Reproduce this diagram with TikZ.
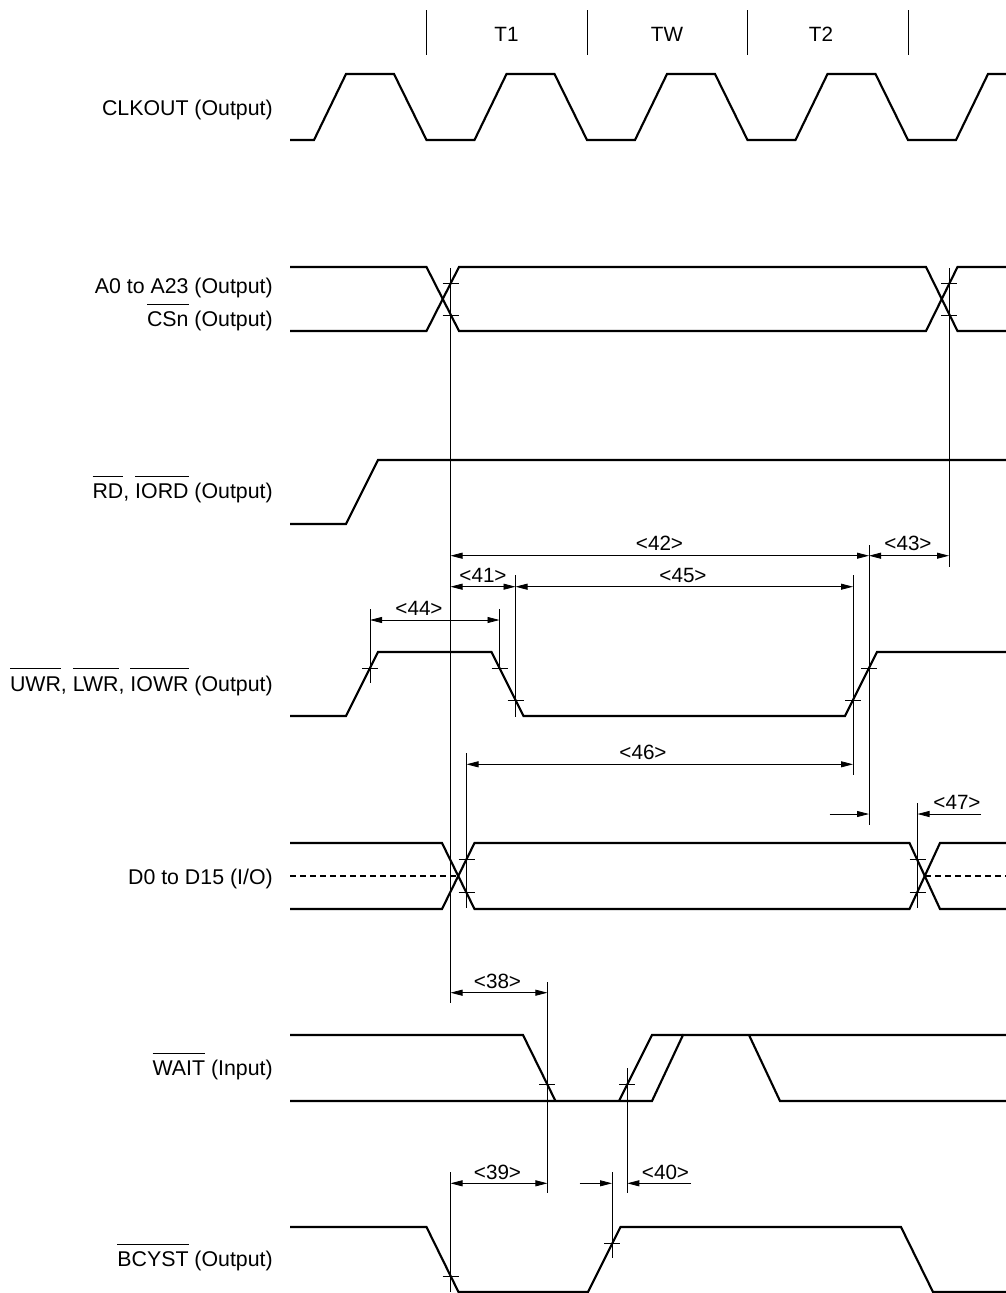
\documentclass[tikz,border=0pt]{standalone}
\usepackage{fontspec}
\setmainfont{Liberation Sans}
\usetikzlibrary{arrows.meta}
\newsavebox\ovlbox
\newcommand{\ovl}[1]{\sbox\ovlbox{#1}\rlap{\rule[1.02em]{\wd\ovlbox}{0.055em}}\usebox\ovlbox}
\begin{document}
\begin{tikzpicture}[x=0.75pt,y=-0.75pt,
  sig/.style={line width=1.6pt},
  thinln/.style={line width=0.6pt},
  tickmk/.style={line width=0.6pt},
  dimln/.style={line width=0.6pt,{Triangle[length=9pt,width=4.5pt]}-{Triangle[length=9pt,width=4.5pt]}},
  dimin/.style={line width=0.6pt,-{Triangle[length=9pt,width=4.5pt]}},
  lbl/.style={font=\fontsize{16}{19}\selectfont, anchor=base east, inner sep=0pt},
  dlbl/.style={font=\fontsize{15.5}{18}\selectfont, inner sep=0pt},
]
\useasboundingbox (0,0) rectangle (1006,1293);

% ---- period markers ----
\foreach \m in {426.5,587,747.5,908} \draw[thinln] (\m,10) -- (\m,55);
\node[dlbl] (t1) at (506.5,34) {T1};
\node[dlbl] (tw) at (667,34) {TW};
\node[dlbl] (t2) at (821,34) {T2};

% ---- left labels ----
\node[lbl] (lclk) at (273,115) {CLKOUT (Output)};
\node[lbl] (laddr) at (273,293.5) {A0 to A23 (Output)};
\node[lbl] (lcs) at (273,326.5) {\ovl{CSn} (Output)};
\node[lbl] (lrd) at (273,498.5) {\ovl{RD}, \ovl{IORD} (Output)};
\node[lbl] (lwr) at (273,691) {\ovl{UWR}, \ovl{LWR}, \ovl{IOWR} (Output)};
\node[lbl] (ld) at (273,884) {D0 to D15 (I/O)};
\node[lbl] (lwait) at (273,1075.5) {\ovl{WAIT} (Input)};
\node[lbl] (lbc) at (273,1266.5) {\ovl{BCYST} (Output)};

% ---- CLKOUT ----
\draw[sig] (290,140) -- (314,140) -- (346,74) -- (394,74) -- (426.5,140)
  -- (474.5,140) -- (506.5,74) -- (554.5,74) -- (587,140)
  -- (635,140) -- (667,74) -- (715,74) -- (747.5,140)
  -- (795.5,140) -- (827.5,74) -- (875.5,74) -- (908,140)
  -- (956,140) -- (988,74) -- (1006,74);

% ---- Address / CSn ----
\draw[sig] (290,267) -- (426.5,267) -- (459,331) -- (926,331) -- (957.5,267) -- (1006,267);
\draw[sig] (290,331) -- (426.5,331) -- (459,267) -- (926,267) -- (957.5,331) -- (1006,331);

% ---- RD ----
\draw[sig] (290,524) -- (346,524) -- (378,460) -- (1006,460);

% ---- WR ----
\draw[sig] (290,716) -- (346,716) -- (378,652) -- (491.5,652) -- (523.5,716)
  -- (845,716) -- (877,652) -- (1006,652);

% ---- D0 to D15 ----
\draw[sig] (290,843) -- (442,843) -- (474.5,909) -- (909.5,909) -- (940,843) -- (1006,843);
\draw[sig] (290,909) -- (442,909) -- (474.5,843) -- (909.5,843) -- (940,909) -- (1006,909);
\draw[sig,dash pattern=on 4.5pt off 3pt] (290,876) -- (458,876);
\draw[sig,dash pattern=on 4.5pt off 3pt] (925,876) -- (1006,876);

% ---- WAIT ----
\draw[sig] (290,1035) -- (523,1035) -- (555.5,1101);
\draw[sig] (290,1101) -- (652,1101) -- (683,1035) -- (1006,1035);
\draw[sig] (619,1101) -- (652,1035) -- (683,1035);
\draw[sig] (749,1035) -- (780,1101) -- (1006,1101);

% ---- BCYST ----
\draw[sig] (290,1227) -- (426.5,1227) -- (458.5,1292) -- (588,1292) -- (620.5,1227)
  -- (901,1227) -- (933,1292) -- (1006,1292);

% ---- extension lines ----
\draw[thinln] (450.5,268) -- (450.5,1003);
\draw[thinln] (949,268) -- (949,567);
\draw[thinln] (370,609) -- (370,683);
\draw[thinln] (499.5,609) -- (499.5,670);
\draw[thinln] (515.5,575) -- (515.5,717);
\draw[thinln] (853,575) -- (853,775);
\draw[thinln] (869,545) -- (869,825);
\draw[thinln] (466.5,753) -- (466.5,908);
\draw[thinln] (917.5,803) -- (917.5,908);
\draw[thinln] (547.4,982) -- (547.4,1193);
\draw[thinln] (627.3,1068) -- (627.3,1193);
\draw[thinln] (450.5,1172) -- (450.5,1292);
\draw[thinln] (612,1172) -- (612,1258);

% ---- threshold ticks ----
\foreach \x/\y in {450.5/283,450.5/315,949/283,949/315,
                   370/668,499.5/668,515.5/700,853/700,869/668,
                   466.5/859.5,466.5/892.5,917.5/859.5,917.5/892.5,
                   547.4/1084.5,627.3/1084.5,
                   450.5/1276,612/1243}
  \draw[tickmk] (\x-8,\y) -- (\x+8,\y);

% ---- dimension coordinates ----
\coordinate (a42) at (450.5,555.7); \coordinate (b42) at (869,555.7);
\coordinate (b43) at (949,555.7);
\coordinate (a41) at (450.5,586.7); \coordinate (b41) at (515.5,586.7);
\coordinate (b45) at (853,586.7);
\coordinate (a44) at (370,620);     \coordinate (b44) at (499.5,620);
\coordinate (a46) at (466.5,764.3); \coordinate (b46) at (853,764.3);
\coordinate (s47a) at (829.5,814);  \coordinate (e47a) at (869,814);
\coordinate (s47b) at (981,814);    \coordinate (e47b) at (917.5,814);
\coordinate (a38) at (450.5,992.7); \coordinate (b38) at (547.4,992.7);
\coordinate (a39) at (450.5,1183.3); \coordinate (b39) at (547.4,1183.3);
\coordinate (s40a) at (579.5,1183.3); \coordinate (e40a) at (612,1183.3);
\coordinate (s40b) at (691,1183.3);   \coordinate (e40b) at (627.3,1183.3);

\draw[dimln] (a42) -- (b42);
\draw[dimln] (b42) -- (b43);
\draw[dimln] (a41) -- (b41);
\draw[dimln] (b41) -- (b45);
\draw[dimln] (a44) -- (b44);
\draw[dimln] (a46) -- (b46);
\draw[dimin] (s47a) -- (e47a);
\draw[dimin] (s47b) -- (e47b);
\draw[dimln] (a38) -- (b38);
\draw[dimln] (a39) -- (b39);
\draw[dimin] (s40a) -- (e40a);
\draw[dimin] (s40b) -- (e40b);

\node[dlbl] (n42) at (659.5,543) {<42>};
\node[dlbl] (n43) at (908,543) {<43>};
\node[dlbl] (n41) at (483,575) {<41>};
\node[dlbl] (n45) at (683,575) {<45>};
\node[dlbl] (n44) at (419,608) {<44>};
\node[dlbl] (n46) at (643,752.5) {<46>};
\node[dlbl] (n47) at (957,802) {<47>};
\node[dlbl] (n38) at (497.5,981) {<38>};
\node[dlbl] (n39) at (497.5,1172) {<39>};
\node[dlbl] (n40) at (665.5,1172) {<40>};
\end{tikzpicture}
\end{document}
